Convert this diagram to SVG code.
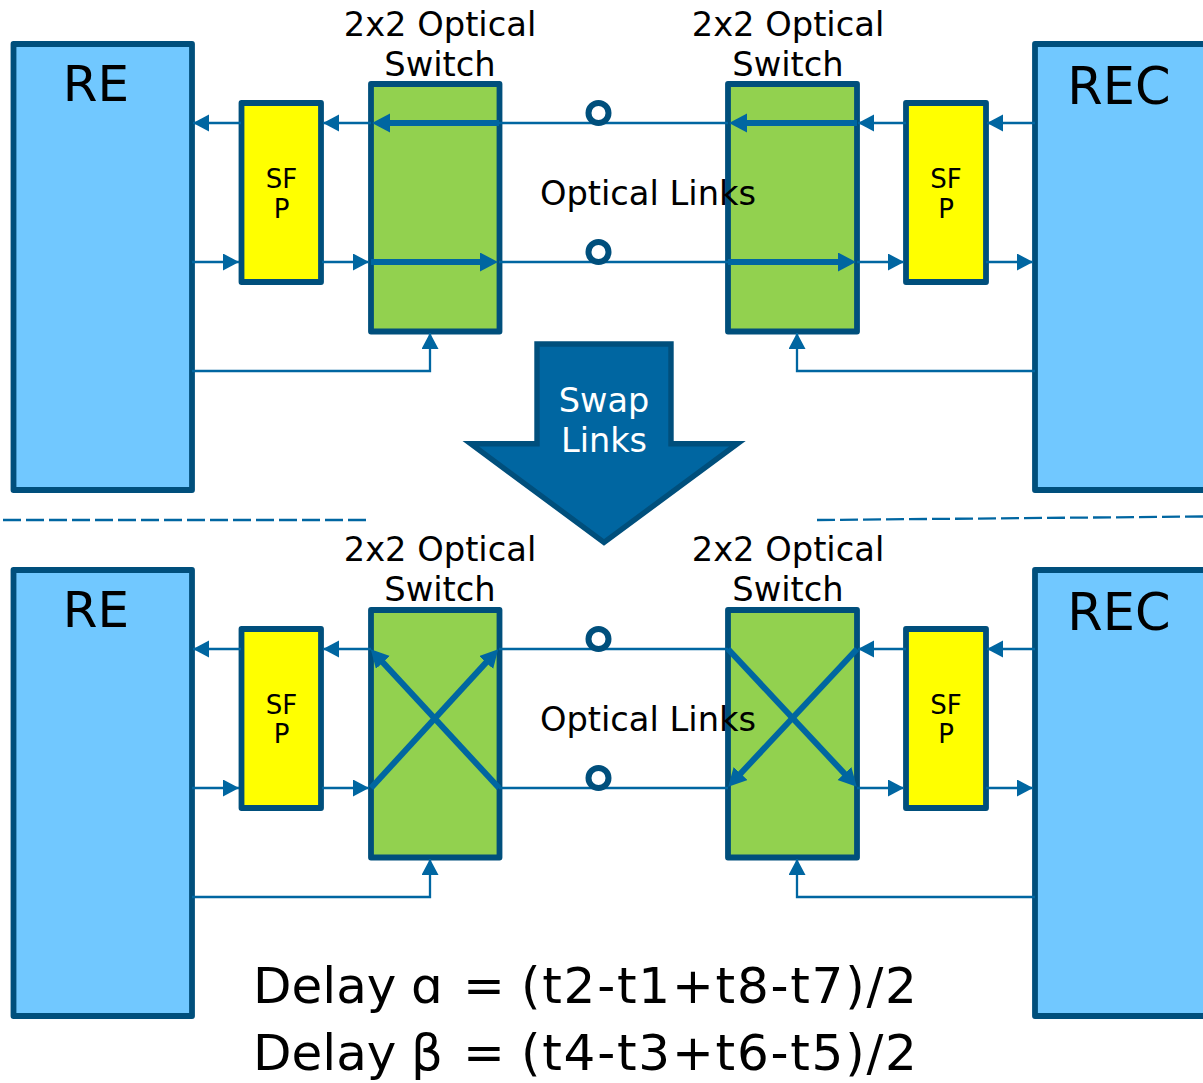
<svg xmlns="http://www.w3.org/2000/svg" width="1203" height="1083" viewBox="0 0 1203 1083">
<style>
text{font-family:"DejaVu Sans",Verdana,sans-serif;fill:#000;text-anchor:middle}
.box{stroke:#004f7c;stroke-width:5.8;stroke-linejoin:round}
.blue{fill:#71c8ff}.sfp{fill:#ffff00}.sw{fill:#92d14f}
.c{fill:none;stroke:#0066a1;stroke-width:2.3}
.t{fill:none;stroke:#0066a1;stroke-width:6}
.o{fill:#fff;stroke:#004f7c;stroke-width:6}
.l{font-size:33.7px}.s{font-size:26px}.b{font-size:50px}.w{font-size:33.500px;fill:#fff}
.d{font-size:50px;text-anchor:start}.f{letter-spacing:1.750px}
</style>
<defs>
<marker id="a" markerUnits="userSpaceOnUse" markerWidth="17" markerHeight="18" refX="16" refY="8.5" orient="auto"><path d="M0 0L16 8.5L0 17z" fill="#0066a1"/></marker>
<marker id="h" markerUnits="userSpaceOnUse" markerWidth="19" markerHeight="20" refX="8" refY="9.5" orient="auto"><path d="M0 0L18 9.5L0 19z" fill="#0066a1"/></marker>
</defs>
<g id="top-nodes">
<g id="re1"><rect class="box blue" x="13.500" y="44" width="178.500" height="446"/><text class="b" x="96" y="101">RE</text></g>
<g id="sfp1"><rect class="box sfp" x="241.500" y="103" width="79.500" height="179"/><text class="s" x="281.500" y="188">SF</text><text class="s" x="281.500" y="218">P</text></g>
<g id="sw1"><rect class="box sw" x="371" y="84" width="128.500" height="247.500"/></g>
<g id="sw2"><rect class="box sw" x="728" y="84" width="129" height="247.500"/></g>
<g id="sfp2"><rect class="box sfp" x="906" y="103" width="80" height="179"/><text class="s" x="946" y="188">SF</text><text class="s" x="946" y="218">P</text></g>
<g id="rec1"><rect class="box blue" x="1035" y="44" width="175" height="446"/><text class="b" x="1119" y="104" style="font-size:51px">REC</text></g>
</g>
<g id="bottom-nodes">
<g id="re2"><rect class="box blue" x="13.500" y="570" width="178.500" height="446"/><text class="b" x="96" y="627">RE</text></g>
<g id="sfp3"><rect class="box sfp" x="241.500" y="629" width="79.500" height="179"/><text class="s" x="281.500" y="714">SF</text><text class="s" x="281.500" y="743">P</text></g>
<g id="sw3"><rect class="box sw" x="371" y="610" width="128.500" height="247.500"/></g>
<g id="sw4"><rect class="box sw" x="728" y="610" width="129" height="247.500"/></g>
<g id="sfp4"><rect class="box sfp" x="906" y="629" width="80" height="179"/><text class="s" x="946" y="714">SF</text><text class="s" x="946" y="743">P</text></g>
<g id="rec2"><rect class="box blue" x="1035" y="570" width="175" height="446"/><text class="b" x="1119" y="630" style="font-size:51px">REC</text></g>
</g>
<g id="connectors">
<path class="c" d="M241 123H193" marker-end="url(#a)"/>
<path class="c" d="M371 123H323" marker-end="url(#a)"/>
<path class="c" d="M906 123H858" marker-end="url(#a)"/>
<path class="c" d="M1035 123H987" marker-end="url(#a)"/>
<path class="c" d="M499 123H728"/>
<path class="c" d="M192 262H239" marker-end="url(#a)"/>
<path class="c" d="M322 262H369" marker-end="url(#a)"/>
<path class="c" d="M857 262H904" marker-end="url(#a)"/>
<path class="c" d="M986 262H1033" marker-end="url(#a)"/>
<path class="c" d="M499 262H728"/>
<path class="c" d="M192 371H430V333" marker-end="url(#a)"/>
<path class="c" d="M1035 371H797V333" marker-end="url(#a)"/>
<path class="t" d="M499 123H382" marker-end="url(#h)"/>
<path class="t" d="M857 123H739" marker-end="url(#h)"/>
<path class="t" d="M371 262H488" marker-end="url(#h)"/>
<path class="t" d="M728 262H846" marker-end="url(#h)"/>
<path class="c" d="M241 649H193" marker-end="url(#a)"/>
<path class="c" d="M371 649H323" marker-end="url(#a)"/>
<path class="c" d="M906 649H858" marker-end="url(#a)"/>
<path class="c" d="M1035 649H987" marker-end="url(#a)"/>
<path class="c" d="M499 649H728"/>
<path class="c" d="M192 788H239" marker-end="url(#a)"/>
<path class="c" d="M322 788H369" marker-end="url(#a)"/>
<path class="c" d="M857 788H904" marker-end="url(#a)"/>
<path class="c" d="M986 788H1033" marker-end="url(#a)"/>
<path class="c" d="M499 788H728"/>
<path class="c" d="M192 897H430V859" marker-end="url(#a)"/>
<path class="c" d="M1035 897H797V859" marker-end="url(#a)"/>
<path class="t" d="M371 788L491.500 656.600" marker-end="url(#h)"/>
<path class="t" d="M499 788L377.500 656.600" marker-end="url(#h)"/>
<path class="t" d="M728 649L849.900 779.400" marker-end="url(#h)"/>
<path class="t" d="M857 649L735.100 779.400" marker-end="url(#h)"/>
<path class="c" d="M3 520H368" stroke-dasharray="18 5"/>
<path class="c" d="M817 520L1203 516.500" stroke-dasharray="18 5"/>
</g>
<g id="link-markers">
<circle class="o" cx="598.500" cy="113" r="10"/><circle class="o" cx="598.500" cy="252" r="10"/>
<circle class="o" cx="598.500" cy="639" r="10"/><circle class="o" cx="598.500" cy="778" r="10"/>
</g>
<g id="swap">
<path d="M537 344H671V443.700H737.500L604 542.400L470.700 443.700H537z" fill="#0066a1" stroke="#004f7c" stroke-width="5.400"/>
<text class="w" x="604" y="412" style="fill:#fff">Swap</text>
<text class="w" x="604" y="452" style="fill:#fff">Links</text>
</g>
<g id="labels">
<text class="l" x="440" y="36">2x2 Optical</text><text class="l" x="440" y="76">Switch</text>
<text class="l" x="788" y="36">2x2 Optical</text><text class="l" x="788" y="76">Switch</text>
<text class="l" x="648" y="205">Optical Links</text>
<text class="l" x="440" y="561">2x2 Optical</text><text class="l" x="440" y="601">Switch</text>
<text class="l" x="788" y="561">2x2 Optical</text><text class="l" x="788" y="601">Switch</text>
<text class="l" x="648" y="731">Optical Links</text>
<text class="d" y="1003"><tspan x="253">Delay</tspan><tspan x="411">ɑ</tspan><tspan x="463">=</tspan><tspan class="f" x="521">(t2-t1+t8-t7)/2</tspan></text>
<text class="d" y="1070"><tspan x="253">Delay</tspan><tspan x="411">β</tspan><tspan x="463">=</tspan><tspan class="f" x="521">(t4-t3+t6-t5)/2</tspan></text>
</g>
</svg>
